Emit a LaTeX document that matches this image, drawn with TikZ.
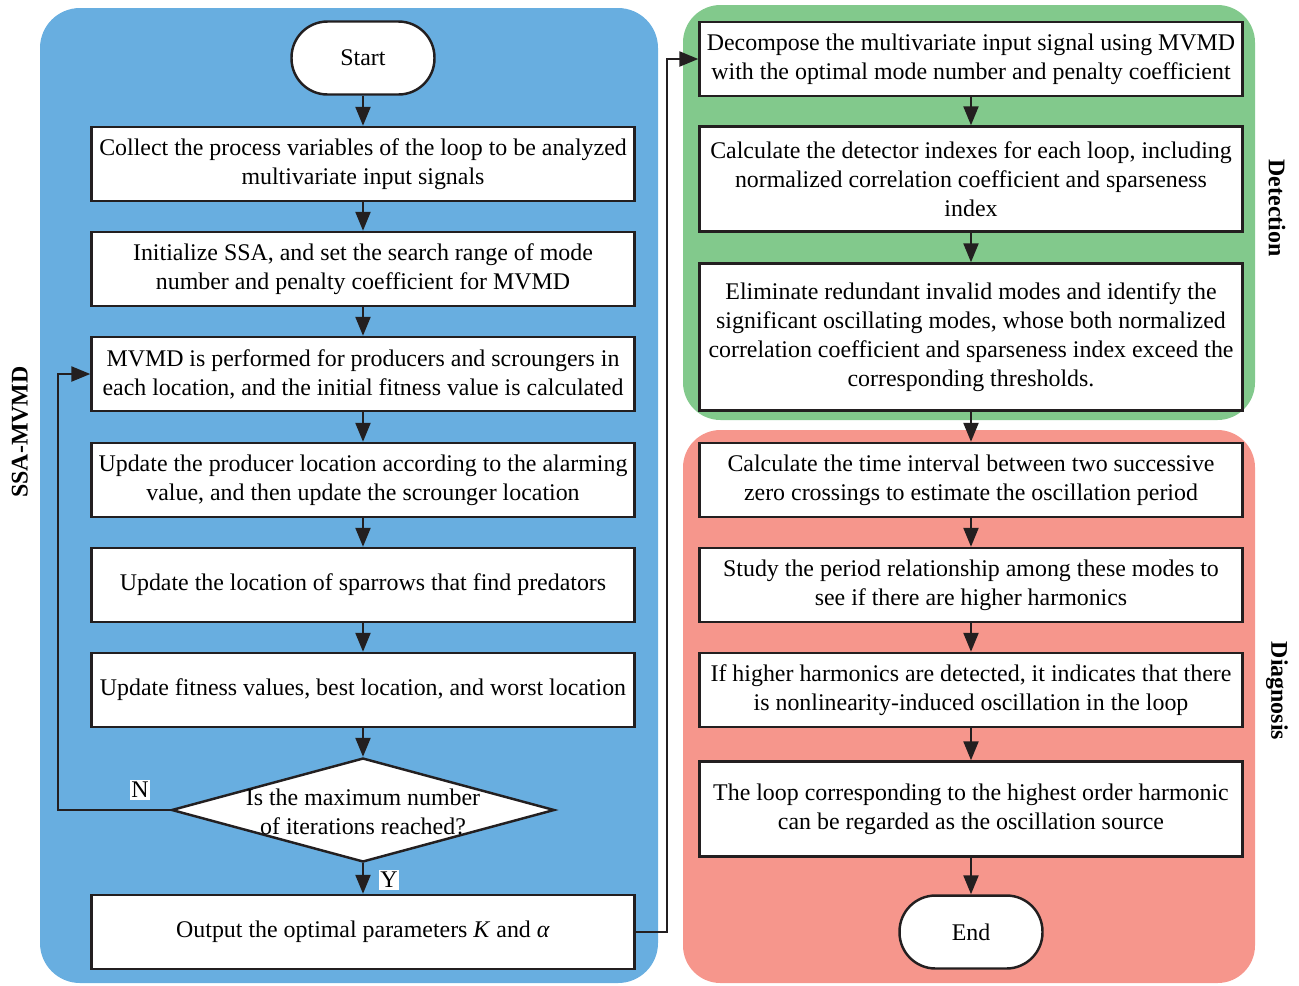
\documentclass[tikz,border=0pt]{standalone}
\usepackage{fontspec}
\setmainfont{Liberation Serif}
\usepackage{xcolor}
\usetikzlibrary{arrows.meta,shapes.geometric}
\definecolor{SsaBlue}{HTML}{68AEE0}
\definecolor{DetGreen}{HTML}{82C98C}
\definecolor{DiagRed}{HTML}{F6968C}
\definecolor{LineDark}{HTML}{231F20}

\tikzset{
  stepbox/.style={draw=LineDark, fill=white, line width=1.4pt, minimum width=10.86cm,
    minimum height=1.48cm, align=center, inner sep=2pt},
  termbox/.style={draw=LineDark, fill=white, line width=1.4pt, rounded corners=0.72cm,
    minimum width=2.86cm, minimum height=1.46cm},
  flow/.style={draw=LineDark, line width=1.3pt, -{Triangle[length=3.8mm,width=3mm]}},
  yesno/.style={fill=white, inner sep=1pt},
  sidelabel/.style={font=\fontsize{13.6pt}{16pt}\selectfont\bfseries}
}

\begin{document}
\begin{tikzpicture}[x=0.02cm, y=-0.02cm, font=\fontsize{13.6pt}{16.5pt}\selectfont]
  \useasboundingbox (0,0) rectangle (1299,985);
  % panels
  \fill[SsaBlue, rounded corners=0.8cm] (40,8) rectangle (658,983);
  \fill[DetGreen, rounded corners=0.75cm] (683,5) rectangle (1255,420);
  \fill[DiagRed, rounded corners=0.75cm] (683,430) rectangle (1255,983);
  \node[sidelabel, rotate=90] (ssalabel) at (20,432) {SSA-MVMD};
  \node[sidelabel, rotate=-90] (detlabel) at (1277,208) {Detection};
  \node[sidelabel, rotate=-90] (diaglabel) at (1277,691) {Diagnosis};

  % SSA-MVMD
  \node[termbox] (start) at (363,58) {Start};
  \node[stepbox] (b1) at (363,164) {Collect the process variables of the loop to be analyzed\\multivariate input signals};
  \node[stepbox] (b2) at (363,269) {Initialize SSA, and set the search range of mode\\number and penalty coefficient for MVMD};
  \node[stepbox] (b3) at (363,374) {MVMD is performed for producers and scroungers in\\each location, and the initial fitness value is calculated};
  \node[stepbox] (b4) at (363,480) {Update the producer location according to the alarming\\value, and then update the scrounger location};
  \node[stepbox] (b5) at (363,585) {Update the location of sparrows that find predators};
  \node[stepbox] (b6) at (363,690) {Update fitness values, best location, and worst location};
  \node[diamond, draw=LineDark, fill=white, line width=1.4pt, inner sep=0pt,
    minimum width=7.66cm, minimum height=2.08cm] (dec) at (363,810) {};
  \node[align=center] (dectext) at (363,812) {Is the maximum number\\of iterations reached?};
  \node[stepbox] (out) at (363,932) {Output the optimal parameters \textit{K} and \textit{α}};

  % Detection
  \node[stepbox] (r1) at (971,59) {Decompose the multivariate input signal using MVMD\\with the optimal mode number and penalty coefficient};
  \node[stepbox, minimum height=2.1cm] (r2) at (971,179) {Calculate the detector indexes for each loop, including\\normalized correlation coefficient and sparseness\\index};
  \node[stepbox, minimum height=2.94cm] (r3) at (971,337) {Eliminate redundant invalid modes and identify the\\significant oscillating modes, whose both normalized\\correlation coefficient and sparseness index exceed the\\corresponding thresholds.};

  % Diagnosis
  \node[stepbox] (r4) at (971,480) {Calculate the time interval between two successive\\zero crossings to estimate the oscillation period};
  \node[stepbox] (r5) at (971,585) {Study the period relationship among these modes to\\see if there are higher harmonics};
  \node[stepbox] (r6) at (971,690) {If higher harmonics are detected, it indicates that there\\is nonlinearity-induced oscillation in the loop};
  \node[stepbox, minimum height=1.9cm] (r7) at (971,809) {The loop corresponding to the highest order harmonic\\can be regarded as the oscillation source};
  \node[termbox] (end) at (971,932) {End};

  % connectors
  \draw[flow] (start) -- (b1);
  \draw[flow] (b1) -- (b2);
  \draw[flow] (b2) -- (b3);
  \draw[flow] (b3) -- (b4);
  \draw[flow] (b4) -- (b5);
  \draw[flow] (b5) -- (b6);
  \draw[flow] (b6) -- (dec);
  \draw[flow] (dec) -- (out);
  \draw[flow] (dec.west) -- ++(-112,0) |- (b3.west);
  \node[yesno] (nolabel) at (140,790) {N};
  \node[yesno] (yeslabel) at (389,880) {Y};
  \draw[flow] (out.east) -- ++(31,0) |- (r1.west);
  \draw[flow] (r1) -- (r2);
  \draw[flow] (r2) -- (r3);
  \draw[flow] (r3) -- (r4);
  \draw[flow] (r4) -- (r5);
  \draw[flow] (r5) -- (r6);
  \draw[flow] (r6) -- (r7);
  \draw[flow] (r7) -- (end);
\end{tikzpicture}
\end{document}
